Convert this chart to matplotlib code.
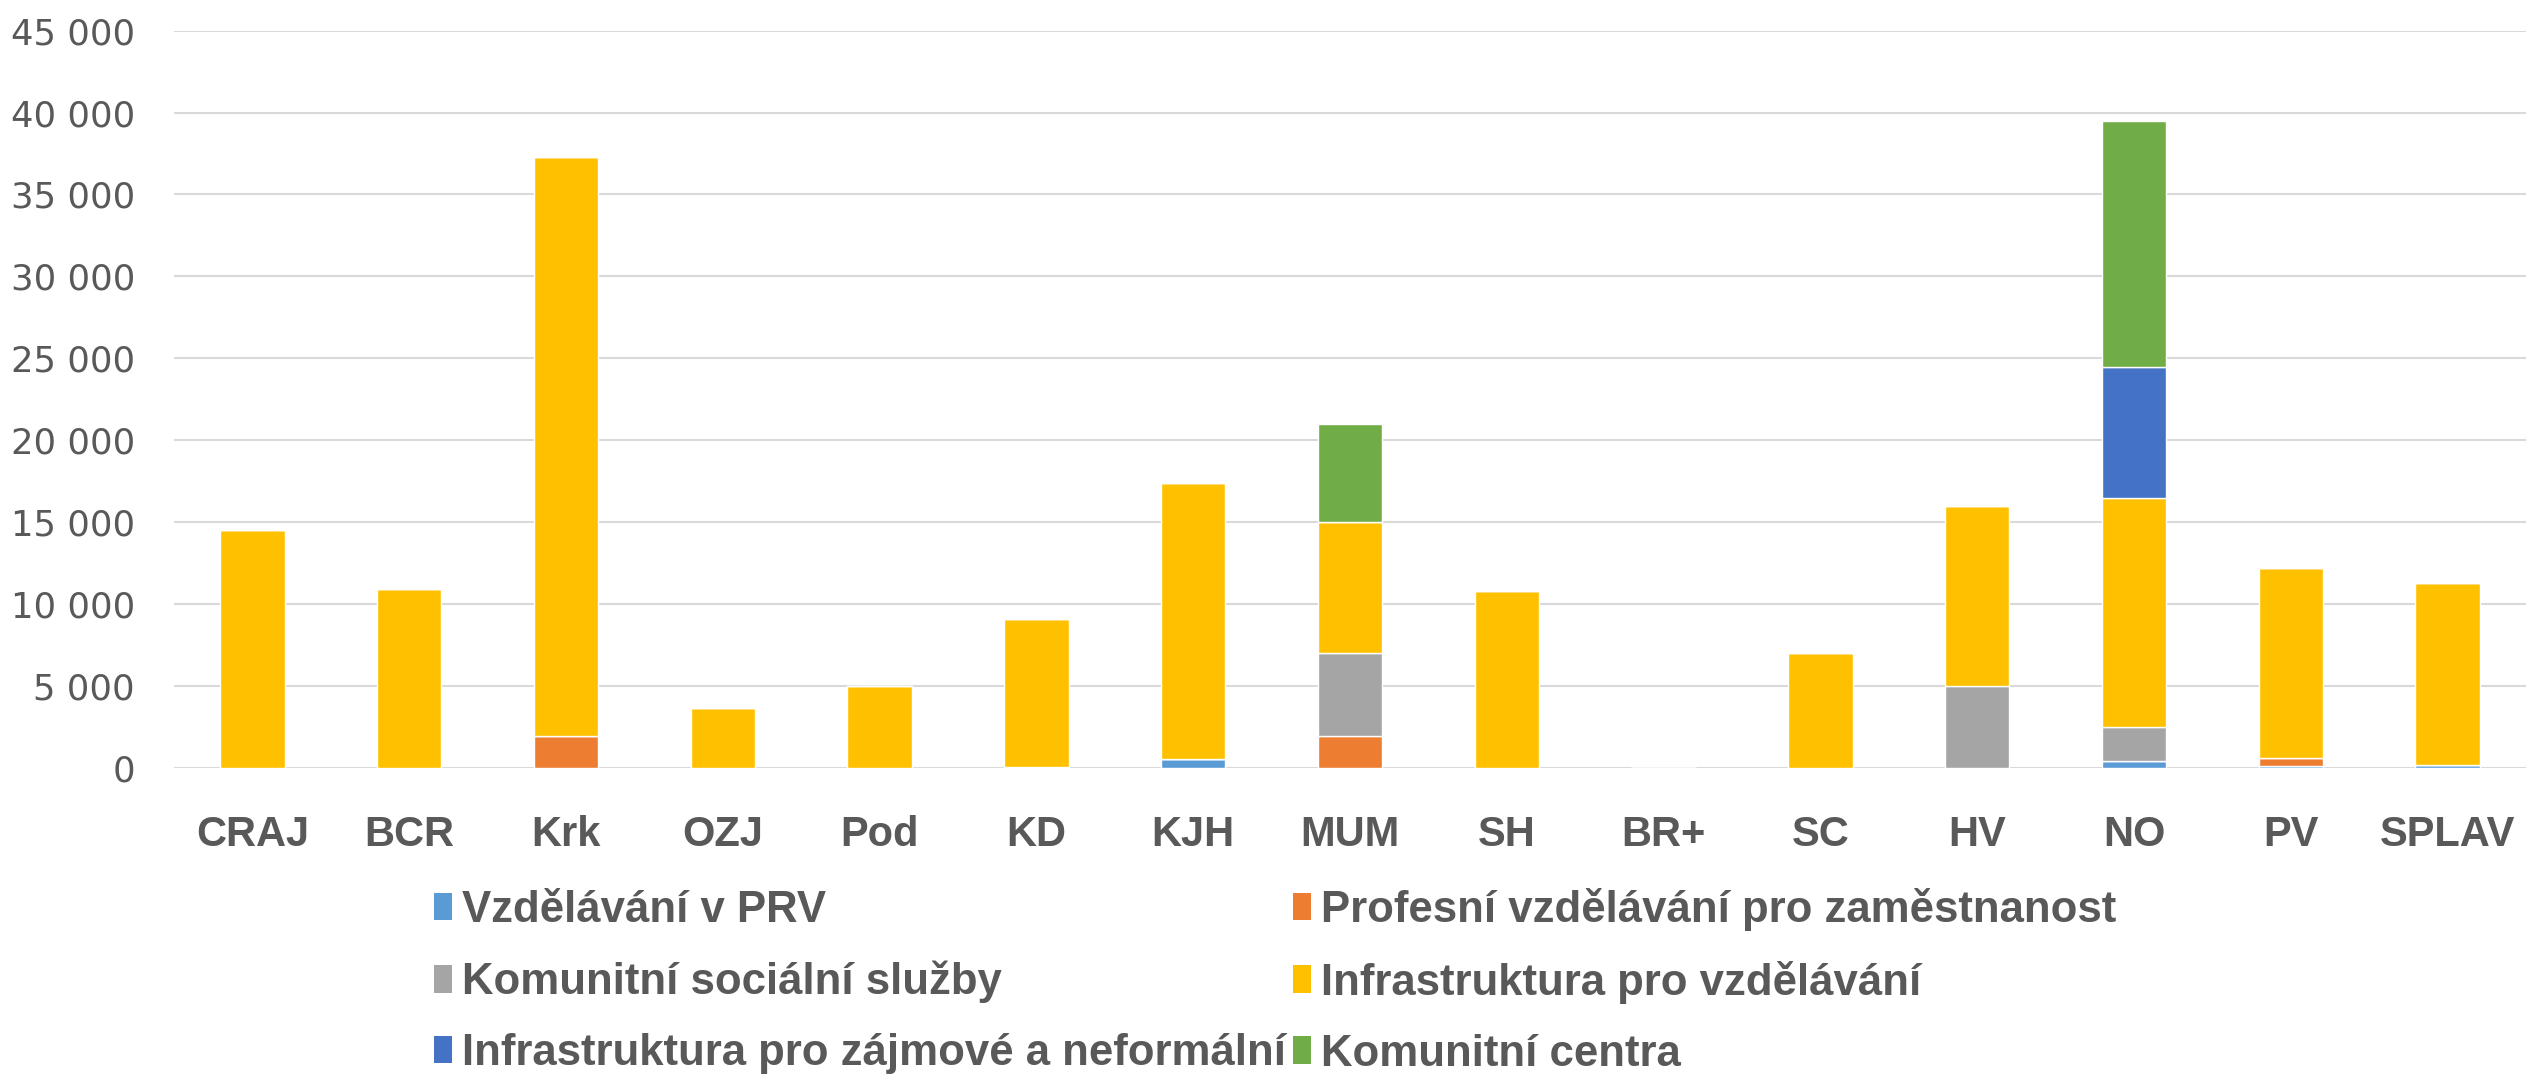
import matplotlib
matplotlib.use("Agg")
import matplotlib.pyplot as plt
import numpy as np
from matplotlib.ticker import FuncFormatter
from matplotlib.patches import Patch

categories = ["CRAJ", "BCR", "Krk", "OZJ", "Pod", "KD", "KJH", "MUM", "SH", "BR+", "SC", "HV", "NO", "PV", "SPLAV"]

series_names = [
    "Vzdělávání v PRV",
    "Profesní vzdělávání pro zaměstnanost",
    "Komunitní sociální služby",
    "Infrastruktura pro vzdělávání",
    "Infrastruktura pro zájmové a neformální",
    "Komunitní centra",
]

vzdelavani_prv      = [0, 0, 0, 0, 0, 80, 550, 0, 0, 0, 0, 0, 450, 100, 170]
profesni            = [0, 0, 1970, 0, 0, 0, 0, 1970, 0, 0, 0, 0, 0, 535, 0]
komunitni_socialni  = [0, 0, 0, 0, 0, 0, 0, 5030, 0, 0, 0, 5000, 2030, 0, 0]
infra_vzdelavani    = [14500, 10900, 35330, 3650, 5000, 9020, 16850, 8000, 10800, 0, 7000, 11000, 14020, 11565, 11130]
infra_zajmove       = [0, 0, 0, 0, 0, 0, 0, 0, 0, 0, 0, 0, 8000, 0, 0]
komunitni_centra    = [0, 0, 0, 0, 0, 0, 0, 6000, 0, 0, 0, 0, 15000, 0, 0]

colors = ["#5B9BD5", "#ED7D31", "#A5A5A5", "#FFC000", "#4472C4", "#70AD47"]

series = [vzdelavani_prv, profesni, komunitni_socialni, infra_vzdelavani, infra_zajmove, komunitni_centra]

TXT = "#595959"
FONT = ["Liberation Sans", "DejaVu Sans"]

fig = plt.figure(figsize=(25.26, 10.81), dpi=100)
ax = fig.add_axes([174 / 2526, 313 / 1081, 1 - 174 / 2526, (768 - 30.6) / 1081])

x = np.arange(len(categories))
bottom = np.zeros(len(categories))
for vals, c, name in zip(series, colors, series_names):
    v = np.array(vals, dtype=float)
    ax.bar(x, v, bottom=bottom, width=0.41, color=c, edgecolor="white", linewidth=1.0, label=name, zorder=3)
    bottom += v

ax.set_xlim(-0.5, len(categories) - 0.5)
ax.set_ylim(0, 45000)
ax.set_yticks(np.arange(0, 45001, 5000))
ax.yaxis.set_major_formatter(FuncFormatter(lambda v, p: f"{int(v):,}".replace(",", " ")))
ax.grid(axis="y", color="#D9D9D9", linewidth=1.5, zorder=0)
for s in ax.spines.values():
    s.set_visible(False)
ax.tick_params(axis="both", length=0)
ax.tick_params(axis="y", pad=28, labelsize=25.5, labelcolor=TXT)
ax.set_xticks(x)
ax.set_xticklabels(categories, fontsize=30, fontweight="bold", color=TXT, family=FONT)
ax.tick_params(axis="x", pad=34)
for lab in ax.get_yticklabels():
    lab.set_family(["DejaVu Sans"])

handles = [Patch(facecolor=c, edgecolor="none") for c in colors]
order = [0, 2, 4, 1, 3, 5]
leg = fig.legend([handles[i] for i in order], [series_names[i] for i in order],
                 ncol=2, loc="upper left", bbox_to_anchor=(434 / 2526, 1 - 888 / 1081),
                 frameon=False, prop={"family": FONT, "weight": "bold", "size": 31.5},
                 handlelength=0.4, handleheight=0.6, handletextpad=0.25,
                 columnspacing=0.15, labelspacing=0.68, borderaxespad=0, borderpad=0)
for t in leg.get_texts():
    t.set_color(TXT)

fig.savefig("out.png", dpi=100)
